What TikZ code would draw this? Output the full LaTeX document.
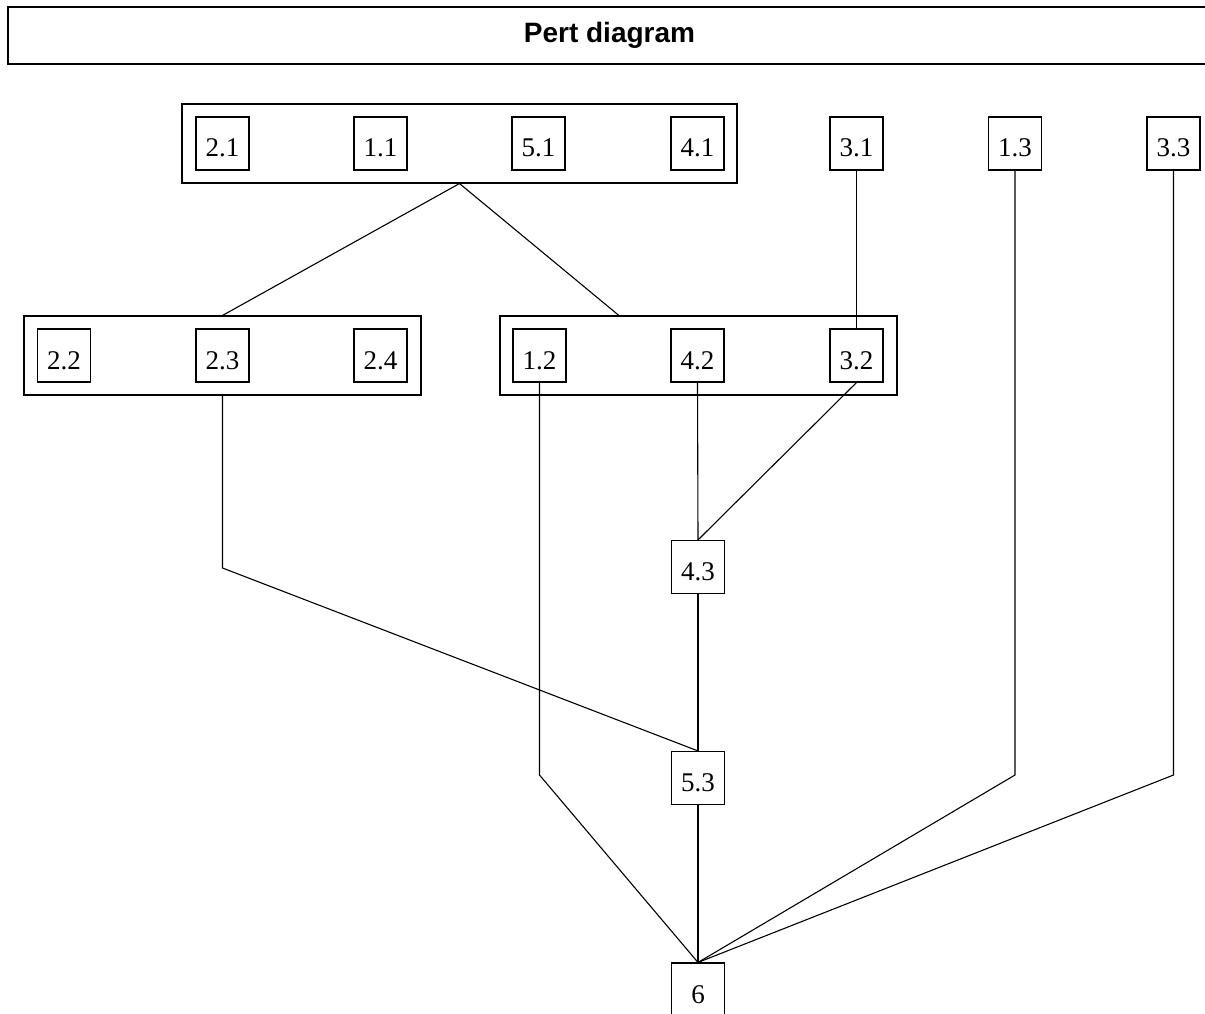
\documentclass[tikz,border=0pt]{standalone}
\usepackage{fontspec}
\setmainfont{Liberation Serif}
\newfontfamily\titlefont{Liberation Sans}
\usetikzlibrary{positioning, calc}

\tikzset{
  task/.style={draw, line width=1.1pt, minimum size=53pt, inner sep=0pt,
    text height=30pt, text depth=3pt, font=\fontsize{27}{30}\selectfont},
  group/.style={draw, line width=1.1pt, minimum height=79pt, inner sep=0pt},
  link/.style={line width=1.1pt}
}

\begin{document}
\begin{tikzpicture}[x=1pt, y=-1pt]

      \clip (0,0) rectangle (1205,1014);

      % Title
      \draw[line width=2.5pt] (8,7) rectangle (1230,64);
      \node[font=\titlefont\bfseries\fontsize{28}{32}\selectfont] (title) at (609.5,35) {Pert diagram};

      % Groups
      \node[group, minimum width=555pt] (grpA) at (459.5,143.5) {};
      \node[group, minimum width=397pt] (grpB) at (222.5,355.5) {};
      \node[group, minimum width=397pt] (grpC) at (698.5,355.5) {};

      % Top row
      \node[task] (t21) at (222.5,143.5) {2.1};
      \node[task] (t11) at (380.5,143.5) {1.1};
      \node[task] (t51) at (538.5,143.5) {5.1};
      \node[task] (t41) at (697.5,143.5) {4.1};
      \node[task] (t31) at (856.5,143.5) {3.1};
      \node[task] (t13) at (1015,143.5) {1.3};
      \node[task] (t33) at (1173.5,143.5) {3.3};

      % Second row
      \node[task] (t22) at (64,355.5) {2.2};
      \node[task] (t23) at (222.5,355.5) {2.3};
      \node[task] (t24) at (380.5,355.5) {2.4};
      \node[task] (t12) at (539.5,355.5) {1.2};
      \node[task] (t42) at (697.5,355.5) {4.2};
      \node[task] (t32) at (856.5,355.5) {3.2};

      % Lower column
      \node[task] (t43) at (698,567) {4.3};
      \node[task] (t53) at (698,778) {5.3};
      \node[task] (t6) at (698,989.5) {6};

      % Bends
      \coordinate (b23) at (222.5,568);
      \coordinate (b6) at (0,775);

      % Links
      \draw[link] (grpA.south) -- (grpB.north);
      \draw[link] (grpA.south) -- ($(grpC.north west)!0.3!(grpC.north east)$);
      \draw[link] (t31.south) -- (t32.north);
      \draw[link] (grpB.south) -- (b23) -- (t53.north);
      \draw[link] (t12.south) -- (t12.south |- b6) -- (t6.north);
      \draw[link] (t42.south) -- (t43.north);
      \draw[link] (t32.south) -- (t43.north);
      \draw[link] (t43.south) -- (t53.north);
      \draw[link] (t53.south) -- (t6.north);
      \draw[link] (t13.south) -- (t13.south |- b6) -- (t6.north);
      \draw[link] (t33.south) -- (t33.south |- b6) -- (t6.north);

\end{tikzpicture}
\end{document}
